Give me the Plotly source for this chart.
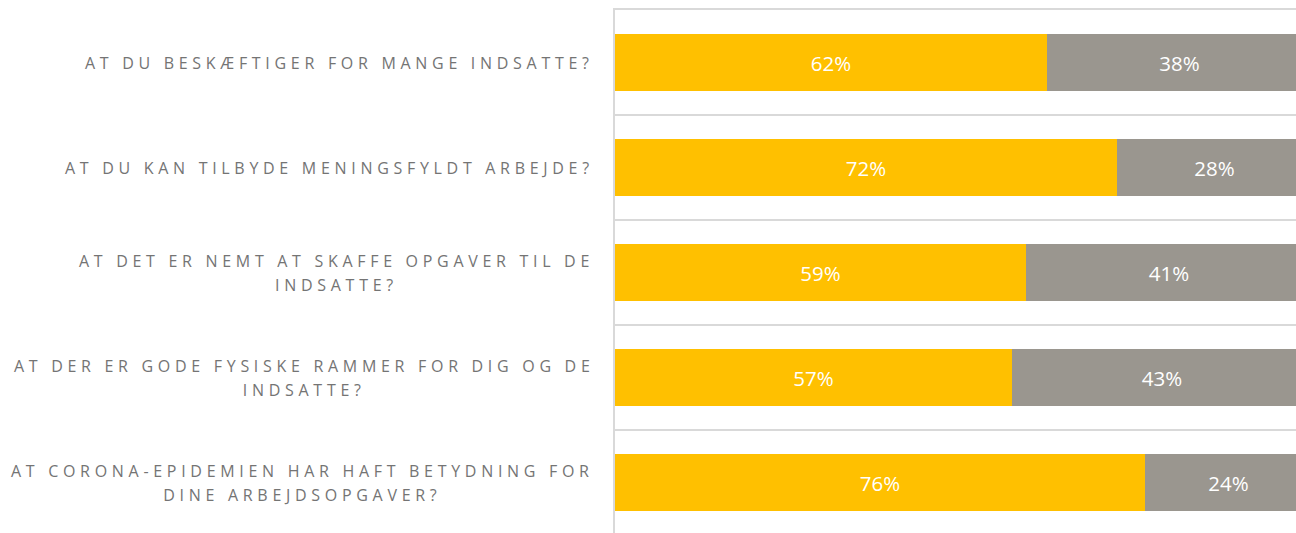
import plotly.graph_objects as go

categories = [
    "AT DU BESKÆFTIGER FOR MANGE INDSATTE?",
    "AT DU KAN TILBYDE MENINGSFYLDT ARBEJDE?",
    "AT DET ER NEMT AT SKAFFE OPGAVER TIL DE|INDSATTE?",
    "AT DER ER GODE FYSISKE RAMMER FOR DIG OG DE|INDSATTE?",
    "AT CORONA-EPIDEMIEN HAR HAFT BETYDNING FOR|DINE ARBEJDSOPGAVER?",
]
yes_values = [62, 72, 59, 57, 76]
no_values = [38, 28, 41, 43, 24]
series_names = ["Ja", "Nej"]

YELLOW = "#FFC000"
GREY = "#9A968F"
LABEL_GREY = "#747474"
GRID = "#d9d9d9"

ycats = list(range(len(categories)))

fig = go.Figure()
for name, vals, col in [(series_names[0], yes_values, YELLOW), (series_names[1], no_values, GREY)]:
    fig.add_trace(go.Bar(
        y=ycats, x=vals, name=name, orientation="h",
        marker=dict(color=col, line=dict(width=0)),
        width=0.55,
        text=[f"{v}%" for v in vals],
        textposition="inside", insidetextanchor="middle",
        textfont=dict(family="Open Sans", size=20.5, color="white"),
        constraintext="none",
        hoverinfo="skip",
    ))

span = '<span style="font-size:16px;letter-spacing:4.7px">{}</span>'
for i, cat in enumerate(categories):
    lines = cat.split("|")
    txt = "<br>".join(span.format(l) for l in lines)
    fig.add_annotation(
        xref="paper", yref="y", x=0, y=i, xanchor="right", yanchor="middle",
        xshift=-19, text=txt, showarrow=False, align="center",
        font=dict(family="Open Sans", size=18.7, color=LABEL_GREY),
    )

fig.update_layout(
    barmode="stack",
    width=1296, height=533,
    margin=dict(l=615, r=0, t=10, b=0, pad=0),
    plot_bgcolor="white", paper_bgcolor="white",
    showlegend=False,
    bargap=0,
)
fig.update_xaxes(range=[0, 97.7], showgrid=False, zeroline=False, showticklabels=False,
                 ticks="", showline=True, side="top", linecolor=GRID, linewidth=2)
fig.update_yaxes(type="linear", range=[4.481, -0.5], zeroline=False,
                 showticklabels=False, ticks="", showline=True, linecolor=GRID, linewidth=2,
                 tickmode="array", tickvals=[b + 0.5 for b in range(len(categories))],
                 showgrid=True, gridcolor=GRID, gridwidth=2)

fig.write_html("out.html", config={"displayModeBar": False},
               post_script="document.body.style.margin='0';")
